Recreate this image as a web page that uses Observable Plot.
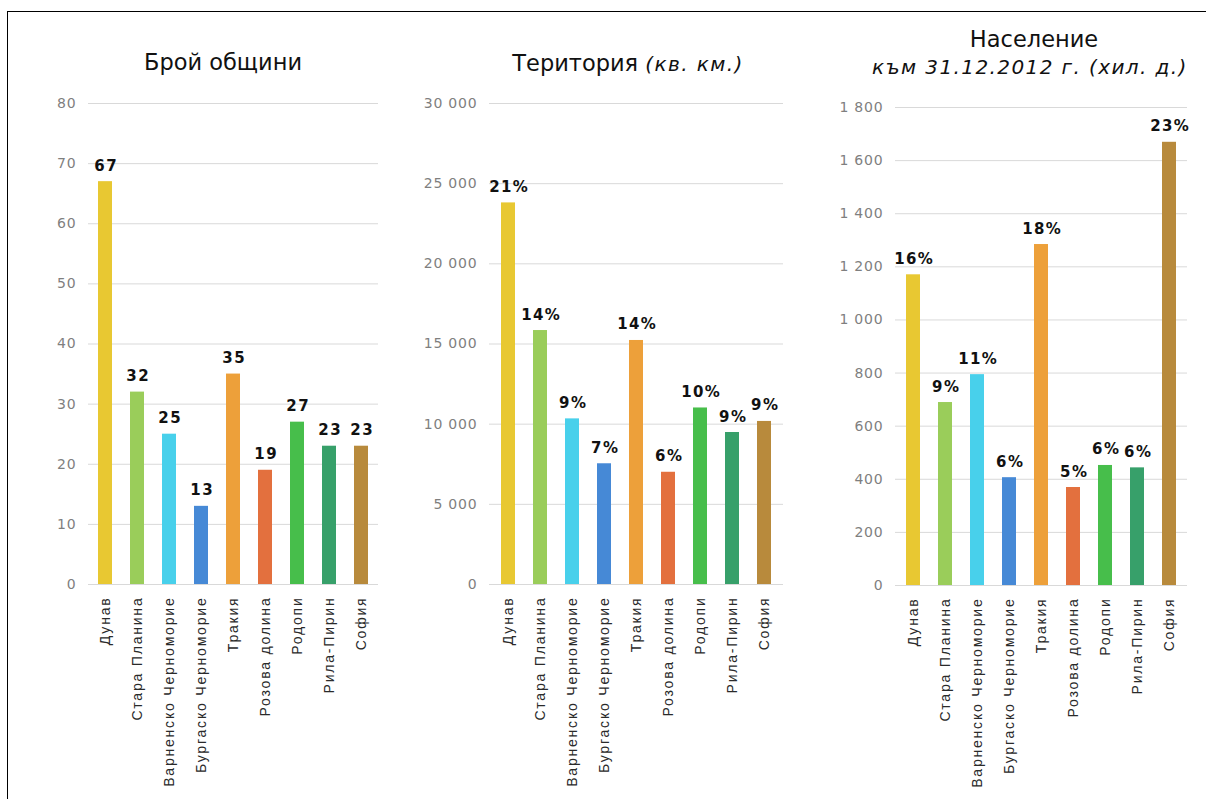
<!DOCTYPE html>
<html>
<head>
<meta charset="utf-8">
<script src="https://cdn.jsdelivr.net/npm/d3@7"></script>
<script src="https://cdn.jsdelivr.net/npm/@observablehq/plot@0.6"></script>
<style>
  html, body { margin: 0; padding: 0; background: #fff; }
  #root { position: relative; width: 1206px; height: 799px; overflow: hidden; font-family: "DejaVu Sans", Verdana, sans-serif; }
  #frame { position: absolute; left: 7px; top: 11px; width: 1250px; height: 900px; border-left: 1.5px solid #000; border-top: 1.5px solid #000; }
  .panel { position: absolute; top: 80px; }
  .title { position: absolute; text-align: center; color: #111; font-size: 22.5px; line-height: 22px; white-space: nowrap; }
  .sub { font-style: italic; font-size: 20px; letter-spacing: 1.4px; }
  g[aria-label="x-axis tick label"] text { letter-spacing: 1.8px; fill: #2a2a2a; }
  g[aria-label="y-axis tick label"] text { fill: #7f7f7f; letter-spacing: 0.8px; }
  g[aria-label="text"] text { letter-spacing: 1.4px; }
</style>
</head>
<body>
<div id="root">
  <div id="frame"></div>
  <div class="title" style="left:123px; width:200px; top:51px;">Брой общини</div>
  <div class="title" style="left:478px; width:300px; top:52px;">Територия <span class="sub">(кв. км.)</span></div>
  <div class="title" style="left:934px; width:200px; top:28px;">Население</div>
  <div class="title sub" style="left:872px; width:300px; top:57px; line-height:20px;">към 31.12.2012 г. (хил. д.)</div>
  <div id="p1" class="panel" style="left:0px;"></div>
  <div id="p2" class="panel" style="left:400px;"></div>
  <div id="p3" class="panel" style="left:800px;"></div>
</div>
<script>
const categories = ["Дунав", "Стара Планина", "Варненско Черноморие", "Бургаско Черноморие", "Тракия", "Розова долина", "Родопи", "Рила-Пирин", "София"];
const colors = ["#E8C832", "#9ACD5A", "#48D0EB", "#4689D6", "#EDA03A", "#E3703E", "#47BE4B", "#37A06A", "#B88A3C"];

const municipalities = [67, 32, 25, 13, 35, 19, 27, 23, 23];
const municipalityTicks = [0, 10, 20, 30, 40, 50, 60, 70, 80];

const territory = [23800, 15840, 10330, 7530, 15220, 7000, 11010, 9480, 10170];
const territoryPct = ["21%", "14%", "9%", "7%", "14%", "6%", "10%", "9%", "9%"];
const territoryTicks = [0, 5000, 10000, 15000, 20000, 25000, 30000];

const population = [1170, 689, 794, 406, 1284, 369, 452, 443, 1669];
const populationPct = ["16%", "9%", "11%", "6%", "18%", "5%", "6%", "6%", "23%"];
const populationTicks = [0, 200, 400, 600, 800, 1000, 1200, 1400, 1600, 1800];

const fmt = d3.formatLocale({thousands: " ", grouping: [3], decimal: ","}).format(",");

function panel(el, values, labels, ticks, o) {
  const data = categories.map((c, i) => ({cat: c, v: values[i], label: labels[i]}));
  const chart = Plot.plot({
    width: o.width, height: o.height,
    marginLeft: o.ml, marginRight: o.mr, marginTop: o.mt, marginBottom: o.mb,
    style: {fontFamily: "DejaVu Sans, Verdana, sans-serif", background: "transparent", overflow: "visible"},
    x: {domain: categories, paddingInner: 0.55, paddingOuter: 0.275, label: null},
    y: {domain: [0, ticks[ticks.length - 1]], label: null},
    color: {domain: categories, range: colors},
    marks: [
      Plot.ruleY(ticks, {stroke: "#d9d9d9", strokeWidth: 1}),
      Plot.barY(data, {x: "cat", y: "v", fill: "cat"}),
      Plot.text(data, {x: "cat", y: "v", text: "label", dy: -11, dx: 0.7, lineAnchor: "bottom", fontWeight: "bold", fontSize: 15, fill: "#111"}),
      Plot.axisY({ticks: ticks, tickSize: 0, tickPadding: 12, tickFormat: fmt, fontSize: 14, label: null}),
      Plot.axisX({tickSize: 0, tickRotate: -90, tickPadding: 12, fontSize: 14, fontFamily: "Liberation Sans, Arial, sans-serif", label: null})
    ]
  });
  document.getElementById(el).appendChild(chart);
}

panel("p1", municipalities, municipalities.map(String), municipalityTicks,
  {width: 390, height: 719, ml: 88, mr: 12, mt: 23, mb: 215});
panel("p2", territory, territoryPct, territoryTicks,
  {width: 390, height: 719, ml: 89, mr: 7, mt: 23, mb: 215});
panel("p3", population, populationPct, populationTicks,
  {width: 406, height: 719, ml: 95, mr: 19, mt: 27, mb: 214});
</script>
</body>
</html>
